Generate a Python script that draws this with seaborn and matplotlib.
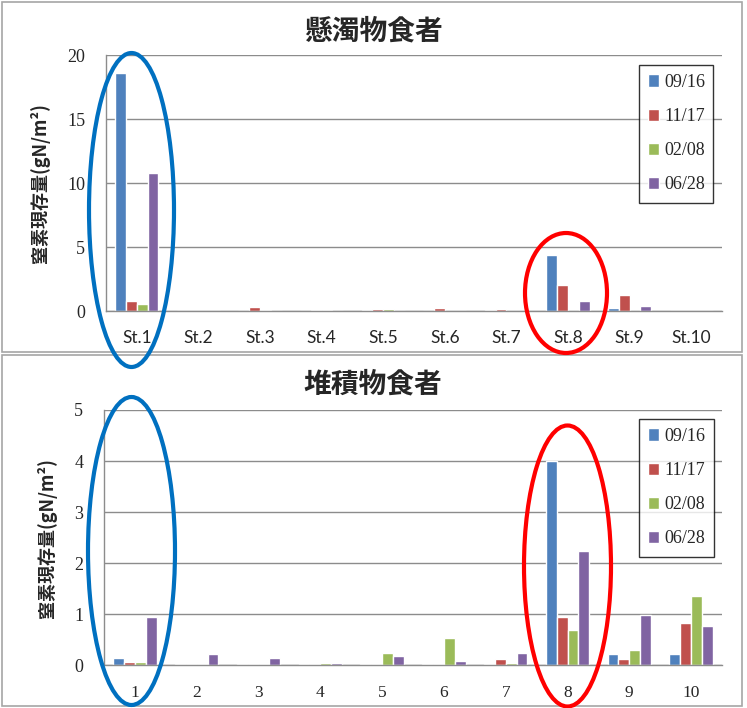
import matplotlib
matplotlib.use("Agg")
import matplotlib.pyplot as plt
from matplotlib.patches import Ellipse, Rectangle
import seaborn as sns
import pandas as pd

# Survey dates (series) and station labels
dates = ["09/16", "11/17", "02/08", "06/28"]
stations_top = ["St.1", "St.2", "St.3", "St.4", "St.5", "St.6", "St.7", "St.8", "St.9", "St.10"]
stations_bottom = ["1", "2", "3", "4", "5", "6", "7", "8", "9", "10"]

# Nitrogen standing stock (gN/m2) of suspension feeders
susp_0916 = [18.6, 0.0, 0.0, 0.03, 0.05, 0.0, 0.05, 4.4, 0.2, 0.0]
susp_1117 = [0.8, 0.0, 0.35, 0.05, 0.15, 0.25, 0.18, 2.0, 1.25, 0.0]
susp_0208 = [0.55, 0.0, 0.05, 0.05, 0.15, 0.0, 0.0, 0.0, 0.0, 0.0]
susp_0628 = [10.8, 0.0, 0.0, 0.0, 0.0, 0.0, 0.0, 0.75, 0.37, 0.0]

# Nitrogen standing stock (gN/m2) of deposit feeders
dep_0916 = [0.15, 0.02, 0.03, 0.03, 0.02, 0.02, 0.02, 4.0, 0.23, 0.23]
dep_1117 = [0.07, 0.02, 0.03, 0.03, 0.02, 0.02, 0.12, 0.95, 0.13, 0.82]
dep_0208 = [0.07, 0.02, 0.02, 0.05, 0.24, 0.54, 0.04, 0.69, 0.29, 1.36]
dep_0628 = [0.95, 0.23, 0.15, 0.05, 0.19, 0.09, 0.24, 2.24, 0.98, 0.77]

palette = ["#4F81BD", "#C0504D", "#9BBB59", "#8064A2"]
grid_grey = "#8C8C8C"

sns.set_style("white")
plt.rcParams["font.family"] = ["Noto Sans CJK JP", "DejaVu Sans"]

W, H = 747, 708
fig = plt.figure(figsize=(W / 100, H / 100), dpi=100)


def long_frame(stations, series):
    rows = []
    for d, vals in zip(dates, series):
        for s, v in zip(stations, vals):
            rows.append({"station": s, "date": d, "value": v})
    return pd.DataFrame(rows)


def px_axes(left, top, right, bottom):
    return fig.add_axes([left / W, 1 - bottom / H, (right - left) / W, (bottom - top) / H])


def draw_panel(ax, stations, series, ymax, title, title_y, xfont, legend_box):
    df = long_frame(stations, series)
    sns.barplot(data=df, x="station", y="value", hue="date", hue_order=dates,
                order=stations, palette=palette, width=0.7, saturation=1,
                errorbar=None, ax=ax)
    ax.set_ylim(0, ymax)
    ax.set_xlim(-0.5, len(stations) - 0.5)
    ax.set_yticks(range(0, ymax + 1, 5 if ymax > 5 else 1))
    ax.yaxis.grid(True, color=grid_grey, linewidth=1)
    ax.set_axisbelow(True)
    for side in ("top", "right"):
        ax.spines[side].set_visible(False)
    for side in ("left", "bottom"):
        ax.spines[side].set_color(grid_grey)
        ax.spines[side].set_linewidth(1)
    ax.tick_params(axis="both", length=0)
    ax.tick_params(axis="y", pad=15)
    ax.tick_params(axis="x", pad=14)
    for t in ax.get_yticklabels():
        t.set_fontfamily("Liberation Serif")
        t.set_fontsize(13)
    for t in ax.get_xticklabels():
        t.set_fontfamily(xfont)
        t.set_fontsize(12.5)
    ax.set_xlabel("")
    ax.set_ylabel("窒素現存量(gN/m²)", fontsize=13, labelpad=12, fontweight="bold",
                  family=["Noto Sans CJK JP", "DejaVu Sans"])
    fig.text(373 / W, 1 - title_y / H, title, ha="center", va="center",
             fontsize=20, fontweight="bold",
             family=["Noto Sans CJK JP", "DejaVu Sans"])
    handles, labels = ax.get_legend_handles_labels()
    ax.legend_.remove()
    lx0, ly0, lx1, ly1 = legend_box
    leg = ax.legend(handles, labels, loc="upper left",
                    bbox_to_anchor=(lx0 / W, 1 - ly1 / H, (lx1 - lx0) / W, (ly1 - ly0) / H),
                    bbox_transform=fig.transFigure, mode="expand",
                    prop={"family": "Liberation Serif", "size": 13},
                    frameon=True, fancybox=False, edgecolor="black",
                    handlelength=0.6, handleheight=0.7, handletextpad=0.3,
                    labelspacing=0.95, borderpad=0.5, borderaxespad=0)
    leg.get_frame().set_linewidth(1)


ax_top = px_axes(106, 55.5, 722, 311)
draw_panel(ax_top, stations_top, [susp_0916, susp_1117, susp_0208, susp_0628],
           20, "懸濁物食者", 32, "Lato", (639, 65, 713, 197))

ax_bot = px_axes(104, 410, 722, 665.3)
draw_panel(ax_bot, stations_bottom, [dep_0916, dep_1117, dep_0208, dep_0628],
           5, "堆積物食者", 385, "Liberation Serif", (639, 419, 714, 552))

# Overlay in pixel coordinates for panel frames and highlight rings
ov = fig.add_axes([0, 0, 1, 1], zorder=10)
ov.set_xlim(0, W)
ov.set_ylim(H, 0)
ov.axis("off")
ov.patch.set_alpha(0)

for (x0, y0, x1, y1) in [(2, 2, 742, 352), (2, 355, 742, 706)]:
    ov.add_patch(Rectangle((x0, y0), x1 - x0, y1 - y0, fill=False,
                           edgecolor="#A6A6A6", linewidth=1.2))

rings = [
    (131.5, 210, 85, 314, "#0070C0"),
    (566, 293, 82, 120, "#FF0000"),
    (131.5, 551, 87, 308, "#0070C0"),
    (567.5, 566, 87, 281, "#FF0000"),
]
for cx, cy, w, h, c in rings:
    ov.add_patch(Ellipse((cx, cy), w, h, fill=False, edgecolor=c, linewidth=3))

fig.savefig("out.png", dpi=100)
